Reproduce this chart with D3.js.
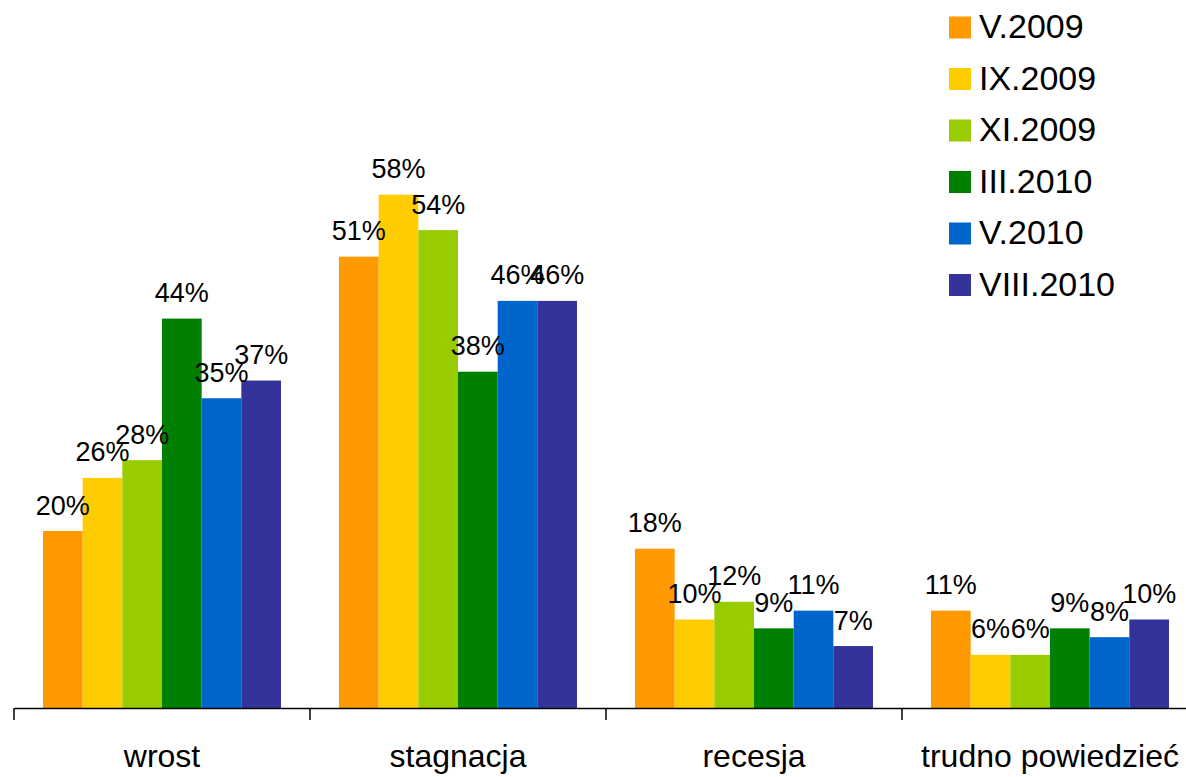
<!DOCTYPE html>
<html><head><meta charset="utf-8">
<script src="https://cdn.jsdelivr.net/npm/d3@7"></script>
<style>body{margin:0;background:#fff}svg{display:block}text{font-family:"Liberation Sans",Arial,sans-serif;fill:#000}</style>
</head><body>
<svg id="c" width="1186" height="777"></svg>
<script>
const categories = ["wrost", "stagnacja", "recesja", "trudno powiedzieć"];
const seriesNames = ["V.2009", "IX.2009", "XI.2009", "III.2010", "V.2010", "VIII.2010"];
const seriesColors = ["#FF9900", "#FFCC00", "#99CC00", "#008000", "#0066CC", "#333399"];
const v2009_05 = [0.20, 0.51, 0.18, 0.11];
const v2009_09 = [0.26, 0.58, 0.10, 0.06];
const v2009_11 = [0.28, 0.54, 0.12, 0.06];
const v2010_03 = [0.44, 0.38, 0.09, 0.09];
const v2010_05 = [0.35, 0.46, 0.11, 0.08];
const v2010_08 = [0.37, 0.46, 0.07, 0.10];
const seriesValues = [v2009_05, v2009_09, v2009_11, v2010_03, v2010_05, v2010_08];

const svg = d3.select("#c");
const baseY = 708;
const x0 = d3.scaleBand().domain(categories).range([14, 1198]).padding(0);
const x1 = d3.scaleBand().domain(seriesNames).range([29, 267]).padding(0);
const y = d3.scaleLinear().domain([0, 0.6]).range([baseY, 177]);
const fmt = d3.format(".0%");

const groups = svg.append("g").selectAll("g").data(categories).join("g")
  .attr("transform", c => `translate(${x0(c)},0)`);

seriesNames.forEach((s, si) => {
  groups.append("rect")
    .attr("x", x1(s)).attr("width", x1.bandwidth())
    .attr("y", (c, ci) => y(seriesValues[si][ci]))
    .attr("height", (c, ci) => baseY - y(seriesValues[si][ci]))
    .attr("fill", seriesColors[si]);
});
seriesNames.forEach((s, si) => {
  groups.append("text")
    .attr("x", x1(s) + x1.bandwidth() / 2)
    .attr("y", (c, ci) => y(seriesValues[si][ci]) - 16.5)
    .attr("text-anchor", "middle")
    .style("font-size", "27px")
    .text((c, ci) => fmt(seriesValues[si][ci]));
});

// axis
const axis = d3.axisBottom(x0).tickSize(0).tickPadding(0).tickFormat("");
const ag = svg.append("g").attr("transform", `translate(0,${baseY})`).call(axis);
ag.select(".domain").attr("stroke", "#000").attr("stroke-width", 1.5);
const bounds = categories.map(c => x0(c)).concat([x0.range()[1]]);
ag.selectAll(".bound").data(bounds).join("line")
  .attr("x1", d => d).attr("x2", d => d).attr("y1", 0).attr("y2", 12)
  .attr("stroke", "#000").attr("stroke-width", 1.5);
ag.selectAll(".cat").data(categories).join("text")
  .attr("x", c => x0(c) + x0.bandwidth() / 2)
  .attr("y", 59)
  .attr("text-anchor", "middle")
  .style("font-size", "32px")
  .text(c => c);

// legend
const lg = svg.append("g");
seriesNames.forEach((s, i) => {
  const cy = 27.5 + i * 51.5;
  lg.append("rect").attr("x", 949).attr("y", cy - 11).attr("width", 22).attr("height", 22).attr("fill", seriesColors[i]);
  lg.append("text").attr("transform", `translate(979,${cy + 10.5}) scale(1.03,1)`).style("font-size", "33px").text(s);
});
</script>
</body></html>
